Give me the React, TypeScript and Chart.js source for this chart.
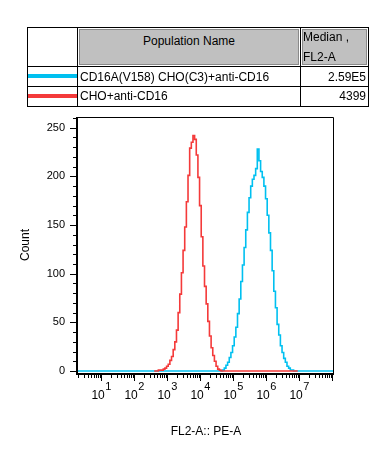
import React, { useEffect, useRef } from 'react';
import { Chart, registerables } from 'chart.js';

Chart.register(...registerables);

// ---- data ----
const seriesNames = ['CD16A(V158) CHO(C3)+anti-CD16', 'CHO+anti-CD16'];
const medianValues = ['2.59E5', '4399'];
const seriesColors = ['#00c0f0', '#f43a3a'];

// log10(FL2-A) bin centres
const binCenters = [
  2.60, 2.65, 2.70, 2.75, 2.80, 2.85, 2.90, 2.95,
  3.00, 3.05, 3.10, 3.15, 3.20, 3.25, 3.30, 3.35, 3.40, 3.45, 3.50, 3.55, 3.60, 3.65, 3.70, 3.75, 3.80, 3.85, 3.90, 3.95,
  4.00, 4.05, 4.10, 4.15, 4.20, 4.25, 4.30, 4.35, 4.40, 4.45, 4.50, 4.55, 4.60, 4.65, 4.70, 4.75, 4.80, 4.85, 4.90, 4.95,
  5.00, 5.05, 5.10, 5.15, 5.20, 5.25, 5.30, 5.35, 5.40, 5.45, 5.50, 5.55, 5.60, 5.65, 5.70, 5.75, 5.80, 5.85, 5.90, 5.95,
  6.00, 6.05, 6.10, 6.15, 6.20, 6.25, 6.30, 6.35, 6.40, 6.45, 6.50, 6.55, 6.60, 6.65, 6.70, 6.75, 6.80, 6.85, 6.90, 6.95,
];

const redCounts = [
  0, 0, 0, 1, 1, 1, 2, 3,
  5, 7, 11, 15, 22, 30, 42, 60, 79, 101, 124, 148, 174, 201, 229, 235, 242, 238, 222, 199,
  170, 138, 108, 87, 69, 51, 36, 24, 16, 10, 5, 2, 1, 0, 0, 0, 0, 0, 0, 0,
  0, 0, 0, 0, 0, 0, 0, 0, 0, 0, 0, 0, 0, 0, 0, 0, 0, 0, 0, 0,
  0, 0, 0, 0, 0, 0, 0, 0, 0, 0, 0, 0, 0, 0, 0, 0, 0, 0, 0, 0,
];

const blueCounts = [
  0, 0, 0, 0, 0, 0, 0, 0,
  0, 0, 0, 0, 0, 0, 0, 0, 0, 0, 0, 0, 0, 0, 0, 0, 0, 0, 0, 0,
  0, 0, 0, 0, 0, 0, 0, 0, 0, 0, 0, 0, 0, 0, 1, 3, 6, 9, 14, 19,
  26, 35, 45, 59, 74, 92, 109, 127, 145, 163, 178, 190, 197, 201, 208, 228, 216, 205, 199, 190,
  177, 160, 142, 124, 103, 82, 65, 48, 37, 26, 19, 13, 9, 5, 3, 1, 1, 0, 0, 0,
];

const decadeExponents = [1, 2, 3, 4, 5, 6, 7];
const yMajorTicks = [0, 50, 100, 150, 200, 250];
const yMinorStep = 10;
const X_MIN = 0.29;
const X_MAX = 8.05;
const Y_MIN = -2;
const Y_MAX = 261;

const FONT = '"Liberation Sans", Arial, Helvetica, sans-serif';

const axisPlugin = {
  id: 'flowAxes',
  afterDraw(chart: any) {
    const { ctx, chartArea: a, scales } = chart;
    const x = scales.x;
    const y = scales.y;
    ctx.save();
    ctx.strokeStyle = '#000';
    ctx.fillStyle = '#000';
    // frame
    ctx.lineWidth = 1;
    ctx.beginPath();
    ctx.moveTo(a.left, a.top + 0.5);
    ctx.lineTo(a.right - 0.5, a.top + 0.5);
    ctx.lineTo(a.right - 0.5, a.bottom);
    ctx.stroke();
    ctx.lineWidth = 2;
    ctx.beginPath();
    ctx.moveTo(a.left - 1, a.top);
    ctx.lineTo(a.left - 1, a.bottom + 1);
    ctx.lineTo(a.right, a.bottom + 1);
    ctx.stroke();

    // y ticks
    ctx.lineWidth = 1;
    ctx.beginPath();
    for (let v = 0; v <= Y_MAX; v += yMinorStep) {
      const py = Math.round(y.getPixelForValue(v)) + 0.5;
      const len = yMajorTicks.includes(v) ? 6 : 3;
      ctx.moveTo(a.left - 2 - len, py);
      ctx.lineTo(a.left - 2, py);
    }
    ctx.stroke();

    // x ticks (log decades)
    ctx.beginPath();
    for (let d = 0; d <= 8; d++) {
      for (let k = 1; k <= 9; k++) {
        const v = d + Math.log10(k);
        if (v < X_MIN || v > X_MAX) continue;
        const px = Math.round(x.getPixelForValue(v)) + 0.5;
        const len = k === 1 ? 6 : 3;
        ctx.moveTo(px, a.bottom + 2);
        ctx.lineTo(px, a.bottom + 2 + len);
      }
    }
    ctx.stroke();

    // x labels 10^n
    ctx.textBaseline = 'middle';
    ctx.textAlign = 'left';
    for (const n of decadeExponents) {
      const px = x.getPixelForValue(n);
      ctx.font = `12px ${FONT}`;
      const w10 = ctx.measureText('10').width;
      ctx.font = `11px ${FONT}`;
      const ws = ctx.measureText(String(n)).width;
      const left = px - (w10 + ws + 0.5) / 2;
      ctx.font = `12px ${FONT}`;
      ctx.fillText('10', left, a.bottom + 23);
      ctx.font = `11px ${FONT}`;
      ctx.fillText(String(n), left + w10 + 0.5, a.bottom + 14);
    }
    ctx.restore();
  },
};

function HistogramChart() {
  const ref = useRef<HTMLCanvasElement | null>(null);
  useEffect(() => {
    if (!ref.current) return;
    const red = binCenters.map((b, i) => ({ x: b, y: redCounts[i] }));
    const blue = [
      { x: X_MIN, y: 0 },
      ...binCenters.map((b, i) => ({ x: b, y: blueCounts[i] })),
      { x: X_MAX, y: 0 },
    ];
    const chart = new Chart(ref.current, {
      type: 'line',
      data: {
        datasets: [
          {
            label: seriesNames[1],
            data: red,
            borderColor: seriesColors[1],
            borderWidth: 1.6,
            pointRadius: 0,
            stepped: 'middle',
            fill: false,
          },
          {
            label: seriesNames[0],
            data: blue,
            borderColor: seriesColors[0],
            borderWidth: 1.6,
            pointRadius: 0,
            stepped: 'middle',
            fill: false,
          },
        ],
      },
      options: {
        animation: false,
        responsive: false,
        maintainAspectRatio: false,
        layout: { padding: { left: 0, top: 117, right: 50, bottom: 0 } },
        plugins: { legend: { display: false }, tooltip: { enabled: false } },
        scales: {
          x: {
            type: 'linear',
            min: X_MIN,
            max: X_MAX,
            grid: { display: false, drawTicks: false },
            border: { display: false },
            ticks: { display: false },
            title: {
              display: true,
              text: 'FL2-A:: PE-A',
              color: '#000',
              font: { family: FONT, size: 12 },
              padding: { top: 0, bottom: 15 },
            },
            afterFit: (s: any) => {
              s.height = 454 - 373;
            },
          },
          y: {
            type: 'linear',
            min: Y_MIN,
            max: Y_MAX,
            grid: { display: false, drawTicks: false },
            border: { display: false },
            afterBuildTicks: (s: any) => {
              s.ticks = yMajorTicks.map((v) => ({ value: v }));
            },
            ticks: {
              color: '#000',
              padding: 13,
              font: { family: FONT, size: 11 },
            },
            title: {
              display: true,
              text: 'Count',
              color: '#000',
              font: { family: FONT, size: 12 },
              padding: { top: 18, bottom: 0 },
            },
            afterFit: (s: any) => {
              s.width = 78;
            },
          },
        },
      },
      plugins: [axisPlugin],
    });
    return () => chart.destroy();
  }, []);
  return (
    <canvas
      ref={ref}
      width={384}
      height={454}
      style={{ position: 'absolute', left: 0, top: 0, width: 384, height: 454 }}
    />
  );
}

const abs = (s: React.CSSProperties): React.CSSProperties => ({ position: 'absolute', ...s });

function Table() {
  const txt: React.CSSProperties = {
    fontFamily: FONT,
    fontSize: 12,
    color: '#000',
    lineHeight: '14px',
    height: 14,
    whiteSpace: 'nowrap',
  };
  return (
    <>
      <div style={abs({ left: 27, top: 27, width: 342, height: 80, border: '1px solid #000', boxSizing: 'border-box' })} />
      <div style={abs({ left: 79, top: 29, width: 220, height: 36, background: '#c0c0c0', border: '1px solid #8a8a8a', boxSizing: 'border-box' })} />
      <div style={abs({ left: 302, top: 29, width: 65, height: 36, background: '#c0c0c0', border: '1px solid #8a8a8a', boxSizing: 'border-box' })} />
      <div style={abs({ left: 77, top: 27, width: 1, height: 80, background: '#000' })} />
      <div style={abs({ left: 300, top: 27, width: 1, height: 80, background: '#000' })} />
      <div style={abs({ left: 27, top: 66, width: 342, height: 1, background: '#000' })} />
      <div style={abs({ left: 27, top: 86, width: 342, height: 1, background: '#000' })} />
      <div style={abs({ ...txt, left: 79, top: 34, width: 220, textAlign: 'center' })}>Population Name</div>
      <div style={abs({ ...txt, left: 303, top: 30 })}>Median ,</div>
      <div style={abs({ ...txt, left: 303, top: 50 })}>FL2-A</div>
      <div style={abs({ left: 28, top: 74, width: 49, height: 4, background: seriesColors[0] })} />
      <div style={abs({ left: 28, top: 94, width: 49, height: 4, background: seriesColors[1] })} />
      <div style={abs({ ...txt, left: 80, top: 70 })}>{seriesNames[0]}</div>
      <div style={abs({ ...txt, left: 80, top: 89 })}>{seriesNames[1]}</div>
      <div style={abs({ ...txt, left: 301, top: 70, width: 65, textAlign: 'right' })}>{medianValues[0]}</div>
      <div style={abs({ ...txt, left: 301, top: 89, width: 65, textAlign: 'right' })}>{medianValues[1]}</div>
    </>
  );
}

export default function App() {
  return (
    <div style={{ position: 'absolute', left: 0, top: 0, width: 384, height: 454, background: '#fff', overflow: 'hidden' }}>
      <HistogramChart />
      <Table />
    </div>
  );
}
